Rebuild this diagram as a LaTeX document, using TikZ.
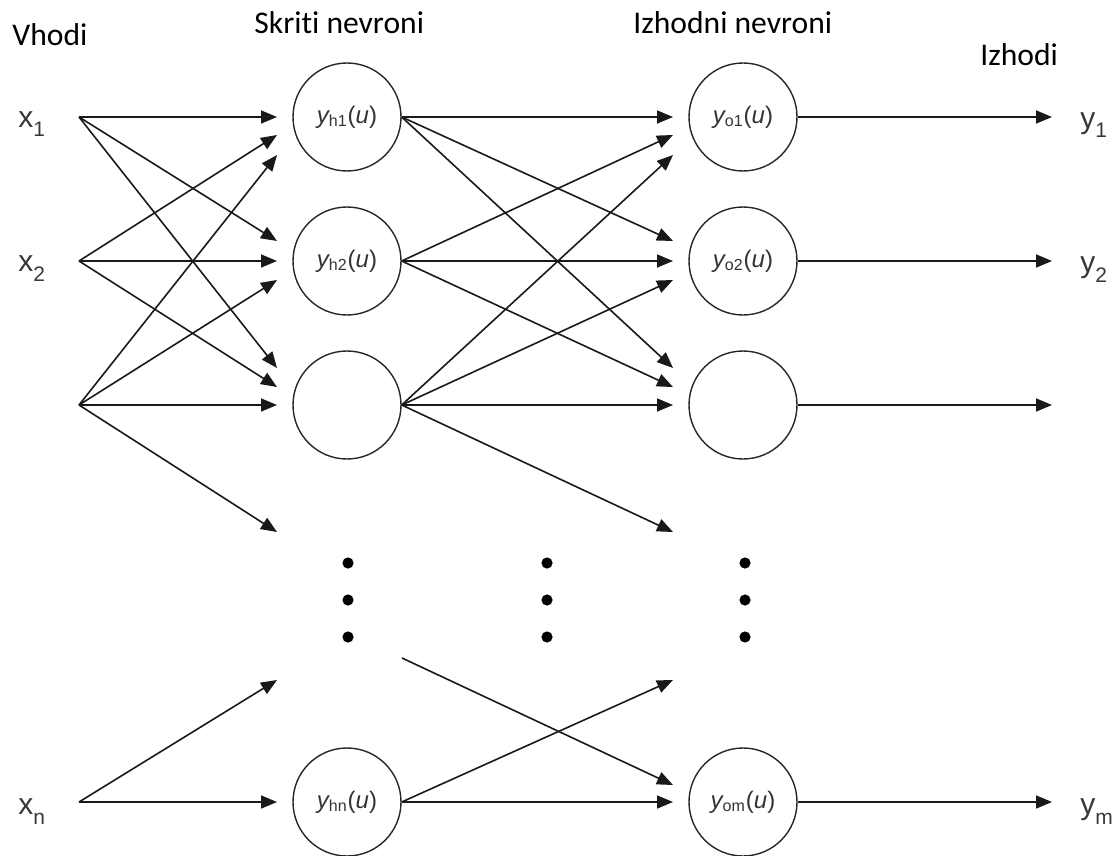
\documentclass[tikz,border=0pt]{standalone}
\usepackage{fontspec}
\setmainfont{Carlito}[Ligatures=NoCommon]
\newfontfamily\arialfont{Liberation Sans}
\usetikzlibrary{arrows.meta,calc}

% label of a neuron and the subscript of an input/output
\newcommand{\neurlab}[1]{{\itshape y}\textsubscript{#1}({\itshape u})}
\newcommand{\sublab}[1]{\raisebox{-5pt}{\fontsize{10.5}{12}\selectfont #1}}

\begin{document}
\begin{tikzpicture}[x=0.5pt,y=-0.5pt,
	neuron/.style={circle,draw=black!85,line width=0.7pt,minimum size=54pt,inner sep=0pt,
		font=\arialfont\fontsize{12}{14}\selectfont,text=black!80},
	conn/.style={line width=0.8pt,draw=black!90,-{Triangle[length=8pt,width=6.5pt]}},
	iolabel/.style={anchor=base west,inner sep=0pt,font=\arialfont\fontsize{15}{18}\selectfont,text=black!78},
	title/.style={anchor=base west,inner sep=0pt,font=\fontsize{15.8}{19}\selectfont}]
	\useasboundingbox (0,0) rectangle (1119,856);
	% titles
	\node[title] (tin) at (12,46) {Vhodi};
	\node[title] (thid) at (254,34) {Skriti nevroni};
	\node[title] (tout) at (633,34) {Izhodni nevroni};
	\node[title] (tres) at (980,66) {Izhodi};
	% neurons
	\node[neuron] (h1) at (347,117) {\neurlab{h1}};
	\node[neuron] (h2) at (347,261) {\neurlab{h2}};
	\node[neuron] (h3) at (347,405) {};
	\node[neuron] (hn) at (347,802) {\neurlab{hn}};
	\node[neuron] (o1) at (743,117) {\neurlab{o1}};
	\node[neuron] (o2) at (743,261) {\neurlab{o2}};
	\node[neuron] (o3) at (743,405) {};
	\node[neuron] (om) at (743,802) {\neurlab{om}};
	% inputs and outputs
	\node[iolabel] (x1) at (18,127) {x\sublab{1}};
	\node[iolabel] (x2) at (18,271) {x\sublab{2}};
	\node[iolabel] (xn) at (18,814) {x\sublab{n}};
	\node[iolabel] (y1) at (1080,128) {y\sublab{1}};
	\node[iolabel] (y2) at (1080,272) {y\sublab{2}};
	\node[iolabel] (ym) at (1080,814) {y\sublab{m}};
	\coordinate (s1) at (79,117);
	\coordinate (s2) at (79,261);
	\coordinate (s3) at (79,405);
	\coordinate (sn) at (79,802);
	\coordinate (hv) at (402,658);
	\foreach \n/\y in {1/117,2/261,3/405,4/549,v/658,n/802}{
		\coordinate (ih\n) at (277,\y);
		\coordinate (io\n) at (673,\y);
	}
	\foreach \n/\y in {1/117,2/261,3/405,m/802}
		\coordinate (r\n) at (1052,\y);
	% connections
	\foreach \s/\t/\d in {s1/ih1/0,s1/ih2/-20,s1/ih3/-37,s2/ih1/18,s2/ih2/0,s2/ih3/-18,
		s3/ih1/38,s3/ih2/19,s3/ih3/0,s3/ih4/-17,sn/ihv/22,sn/ihn/0}
		\draw[conn] (\s) -- ($(\t)+(0,\d)$);
	\foreach \s/\t/\d in {h1.east/io1/0,h1.east/io2/-20,h1.east/io3/-37,h2.east/io1/18,h2.east/io2/0,h2.east/io3/-18,
		h3.east/io1/38,h3.east/io2/19,h3.east/io3/0,h3.east/io4/-17,hv/ion/-17,hn.east/iov/22,hn.east/ion/0}
		\draw[conn] (\s) -- ($(\t)+(0,\d)$);
	\foreach \n in {1,2,3,m}
		\draw[conn] (o\n.east) -- (r\n);
	% dots
	\foreach \x in {348,547,745}
		\foreach \y in {563,600,637}
			\fill[black] (\x,\y) circle[radius=2.8pt];
\end{tikzpicture}
\end{document}
